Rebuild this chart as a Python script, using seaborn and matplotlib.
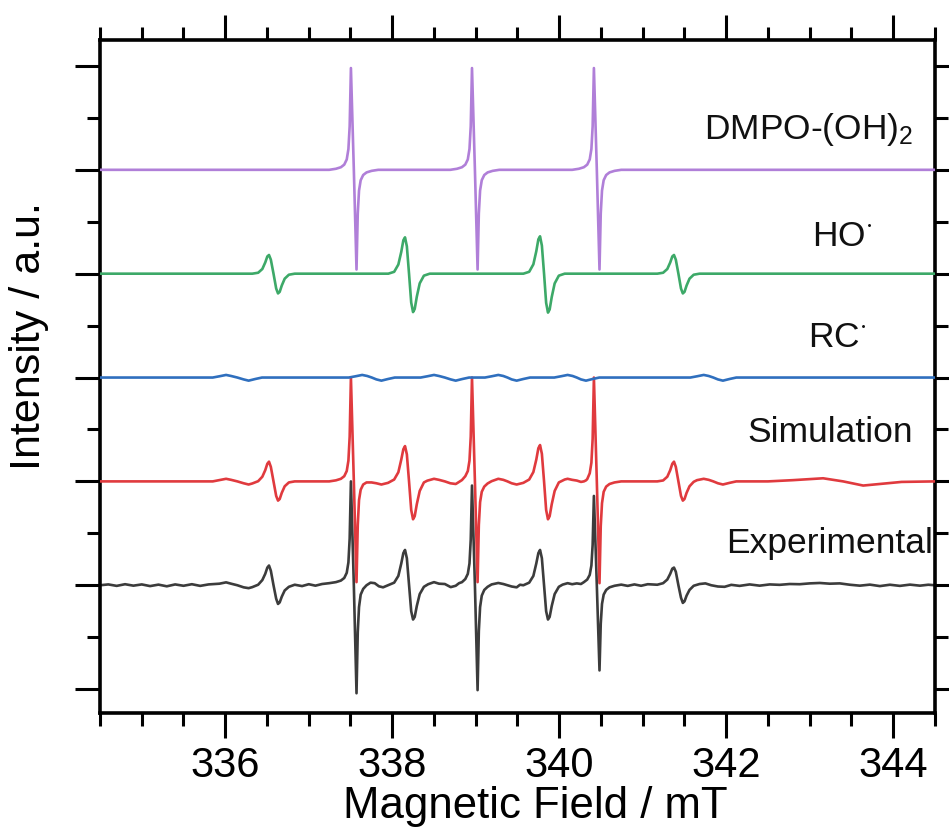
import matplotlib
matplotlib.use("Agg")
import matplotlib.pyplot as plt
import seaborn as sns
import pandas as pd
from matplotlib.ticker import MultipleLocator

# ---------------- data ----------------
labels = ["DMPO-(OH)$_2$", r"HO$^{\cdot}$", r"RC$^{\cdot}$", "Simulation", "Experimental"]
offsets = [4, 3, 2, 1, 0]
colors = ["#B07FD8", "#3DA968", "#2F6FBE", "#E03A3E", "#3C3C3C"]
label_x = [342.99, 343.39, 343.33, 343.24, 343.24]
label_dy = [0.39, 0.355, 0.39, 0.47, 0.40]

dmpo_pts = [
    (334.5, 0),
    (337.245, 0), (337.325, 0.01), (337.385, 0.025), (337.425, 0.05), (337.455, 0.10), (337.475, 0.20),
    (337.49, 0.42), (337.505, 0.98), (337.54, 0.0), (337.572, -0.96), (337.587, -0.42), (337.602, -0.20),
    (337.622, -0.10), (337.652, -0.05), (337.692, -0.025), (337.752, -0.01), (337.832, 0),
    (338.695, 0), (338.775, 0.01), (338.835, 0.025), (338.875, 0.05), (338.905, 0.10), (338.925, 0.20),
    (338.94, 0.42), (338.955, 0.98), (338.99, 0.0), (339.022, -0.96), (339.037, -0.42), (339.052, -0.20),
    (339.072, -0.10), (339.102, -0.05), (339.142, -0.025), (339.202, -0.01), (339.282, 0),
    (340.155, 0), (340.235, 0.01), (340.295, 0.025), (340.335, 0.05), (340.365, 0.10), (340.385, 0.20),
    (340.40, 0.42), (340.415, 0.98), (340.45, 0.0), (340.482, -0.96), (340.497, -0.42), (340.512, -0.20),
    (340.532, -0.10), (340.562, -0.05), (340.602, -0.025), (340.662, -0.01), (340.742, 0),
    (344.5, 0),
]

ho_pts = [
    (334.5, 0),
    (336.324, 0), (336.394, 0.009), (336.444, 0.045), (336.479, 0.108), (336.504, 0.166), (336.524, 0.18),
    (336.546, 0.135), (336.578, 0), (336.610, -0.143), (336.632, -0.19), (336.652, -0.175), (336.677, -0.114),
    (336.712, -0.048), (336.762, -0.01), (336.832, 0),
    (337.953, 0), (338.023, 0.018), (338.073, 0.088), (338.108, 0.21), (338.133, 0.322), (338.153, 0.35),
    (338.175, 0.263), (338.201, 0), (338.227, -0.278), (338.249, -0.37), (338.269, -0.34), (338.294, -0.222),
    (338.329, -0.093), (338.379, -0.019), (338.449, 0),
    (339.57, 0), (339.64, 0.018), (339.69, 0.09), (339.725, 0.216), (339.75, 0.331), (339.77, 0.36),
    (339.792, 0.27), (339.818, 0), (339.843, -0.281), (339.865, -0.375), (339.885, -0.345), (339.91, -0.225),
    (339.945, -0.094), (339.995, -0.019), (340.065, 0),
    (341.174, 0), (341.244, 0.009), (341.294, 0.045), (341.329, 0.108), (341.354, 0.166), (341.374, 0.18),
    (341.396, 0.135), (341.427, 0), (341.458, -0.143), (341.48, -0.19), (341.50, -0.175), (341.525, -0.114),
    (341.56, -0.048), (341.61, -0.01), (341.68, 0),
    (344.5, 0),
]

rc_pts = [
    (334.5, 0),
    (335.85, 0), (335.93, 0.012), (336.01, 0.025), (336.07, 0.015), (336.145, 0), (336.22, -0.018),
    (336.28, -0.03), (336.36, -0.014), (336.44, 0),
    (337.48, 0), (337.56, 0.012), (337.64, 0.025), (337.70, 0.015), (337.755, 0), (337.81, -0.018),
    (337.87, -0.03), (337.95, -0.014), (338.03, 0),
    (338.34, 0), (338.42, 0.012), (338.50, 0.025), (338.56, 0.015), (338.63, 0), (338.70, -0.018),
    (338.76, -0.03), (338.84, -0.014), (338.92, 0),
    (339.11, 0), (339.19, 0.012), (339.27, 0.025), (339.33, 0.015), (339.38, 0), (339.43, -0.018),
    (339.49, -0.03), (339.57, -0.014), (339.65, 0),
    (339.94, 0), (340.02, 0.012), (340.10, 0.025), (340.16, 0.015), (340.21, 0), (340.26, -0.018),
    (340.32, -0.03), (340.40, -0.014), (340.48, 0),
    (341.57, 0), (341.65, 0.012), (341.73, 0.025), (341.79, 0.015), (341.845, 0), (341.90, -0.018),
    (341.96, -0.03), (342.04, -0.014), (342.12, 0),
    (344.5, 0),
]

sim_pts = [
    (334.5, 0), (335.85, 0), (335.93, 0.012), (336.01, 0.025), (336.07, 0.015), (336.145, 0), (336.22, -0.018),
    (336.28, -0.03), (336.324, -0.02), (336.394, 0.002), (336.444, 0.045), (336.479, 0.108), (336.504, 0.17),
    (336.524, 0.19), (336.546, 0.14), (336.578, 0), (336.610, -0.14), (336.632, -0.185), (336.652, -0.17),
    (336.677, -0.11), (336.712, -0.047), (336.762, -0.01), (336.832, 0),
    (337.245, 0), (337.325, 0.01), (337.385, 0.025), (337.425, 0.05), (337.455, 0.10), (337.475, 0.20),
    (337.49, 0.43), (337.505, 1.0), (337.54, 0), (337.572, -0.97), (337.587, -0.42), (337.602, -0.18),
    (337.622, -0.08), (337.652, -0.03), (337.692, -0.01), (337.752, -0.01), (337.81, -0.018), (337.87, -0.03),
    (337.95, -0.014), (338.023, 0.018), (338.073, 0.088), (338.108, 0.21), (338.133, 0.31), (338.153, 0.34),
    (338.175, 0.26), (338.201, 0), (338.227, -0.275), (338.249, -0.365), (338.269, -0.335), (338.294, -0.22),
    (338.329, -0.092), (338.379, -0.01), (338.42, 0.007), (338.50, 0.025), (338.56, 0.015), (338.63, 0),
    (338.695, -0.018), (338.76, -0.025), (338.775, -0.018), (338.835, 0.013), (338.875, 0.05), (338.905, 0.10),
    (338.925, 0.20), (338.94, 0.43), (338.955, 1.0), (338.99, 0), (339.022, -0.97), (339.037, -0.42),
    (339.052, -0.20), (339.072, -0.10), (339.102, -0.05), (339.142, -0.02), (339.19, 0.002), (339.27, 0.025),
    (339.33, 0.015), (339.38, 0), (339.43, -0.018), (339.49, -0.03), (339.57, -0.014), (339.64, 0.018),
    (339.69, 0.09), (339.725, 0.21), (339.75, 0.32), (339.77, 0.35), (339.792, 0.265), (339.818, 0),
    (339.843, -0.275), (339.865, -0.365), (339.885, -0.335), (339.91, -0.22), (339.945, -0.092), (339.995, -0.01),
    (340.02, 0.0), (340.065, 0.018), (340.10, 0.025), (340.155, 0.015), (340.21, 0.008), (340.235, 0.002),
    (340.26, -0.005), (340.295, 0.0), (340.32, 0.01), (340.335, 0.022), (340.365, 0.078), (340.385, 0.18),
    (340.40, 0.41), (340.415, 1.0), (340.45, 0), (340.482, -0.98), (340.497, -0.43), (340.512, -0.21),
    (340.532, -0.10), (340.562, -0.05), (340.602, -0.025), (340.662, -0.01), (340.742, 0),
    (341.174, 0), (341.244, 0.009), (341.294, 0.045), (341.329, 0.108), (341.354, 0.17), (341.374, 0.19),
    (341.396, 0.14), (341.427, 0), (341.458, -0.14), (341.48, -0.185), (341.50, -0.17), (341.525, -0.11),
    (341.56, -0.047), (341.61, -0.004), (341.65, 0.012), (341.73, 0.025), (341.79, 0.015), (341.845, 0),
    (341.90, -0.018), (341.96, -0.03), (342.04, -0.014), (342.12, 0), (342.5, 0.0), (342.8, 0.012),
    (343.16, 0.03), (343.40, 0.0), (343.64, -0.04), (343.9, -0.02), (344.1, -0.005), (344.5, 0),
]

exp_pts = [
    (334.5, 0.0), (334.6, 0.008), (334.7, -0.006), (334.8, 0.01), (334.9, -0.004), (335.0, 0.008),
    (335.1, -0.008), (335.2, 0.006), (335.3, -0.01), (335.4, 0.008), (335.5, -0.005), (335.6, 0.01),
    (335.7, -0.006), (335.8, 0.008), (335.93, 0.015), (336.01, 0.028), (336.07, 0.015), (336.145, 0.0),
    (336.22, -0.02), (336.28, -0.028), (336.324, -0.018), (336.394, 0.005), (336.444, 0.05), (336.479, 0.11),
    (336.504, 0.17), (336.524, 0.19), (336.546, 0.14), (336.578, 0.0), (336.610, -0.13), (336.632, -0.18),
    (336.652, -0.165), (336.677, -0.11), (336.712, -0.05), (336.762, -0.015), (336.832, 0.005), (336.92, -0.008),
    (337.0, 0.01), (337.08, -0.004), (337.16, 0.012), (337.245, 0.02), (337.325, 0.03), (337.385, 0.045),
    (337.425, 0.07), (337.455, 0.12), (337.475, 0.22), (337.49, 0.45), (337.505, 1.0), (337.54, 0.0),
    (337.572, -1.04), (337.587, -0.45), (337.602, -0.21), (337.622, -0.09), (337.652, -0.035), (337.692, 0.0),
    (337.74, 0.025), (337.79, 0.02), (337.84, -0.01), (337.89, -0.02), (337.95, 0.0), (338.023, 0.025),
    (338.073, 0.09), (338.108, 0.21), (338.133, 0.31), (338.153, 0.34), (338.175, 0.26), (338.201, 0.0),
    (338.227, -0.25), (338.249, -0.33), (338.269, -0.305), (338.294, -0.20), (338.329, -0.085), (338.379, -0.015),
    (338.43, 0.01), (338.50, 0.03), (338.56, 0.015), (338.63, 0.012), (338.70, -0.018), (338.76, -0.005),
    (338.80, 0.02), (338.835, 0.03), (338.875, 0.06), (338.905, 0.11), (338.925, 0.21), (338.94, 0.44),
    (338.955, 0.96), (338.99, 0.0), (339.022, -1.01), (339.037, -0.44), (339.052, -0.21), (339.072, -0.10),
    (339.102, -0.045), (339.142, -0.015), (339.19, 0.008), (339.27, 0.022), (339.33, 0.012), (339.38, 0.0),
    (339.43, -0.012), (339.49, -0.02), (339.53, 0.005), (339.57, 0.0), (339.64, 0.025), (339.69, 0.09),
    (339.725, 0.21), (339.75, 0.31), (339.77, 0.34), (339.792, 0.26), (339.818, 0.0), (339.843, -0.25),
    (339.865, -0.33), (339.885, -0.305), (339.91, -0.20), (339.945, -0.085), (339.995, -0.015), (340.04, 0.006),
    (340.10, 0.02), (340.155, 0.01), (340.21, 0.018), (340.26, 0.012), (340.295, 0.03), (340.335, 0.055),
    (340.365, 0.10), (340.385, 0.19), (340.40, 0.39), (340.415, 0.86), (340.45, 0.0), (340.482, -0.82),
    (340.497, -0.37), (340.512, -0.18), (340.532, -0.09), (340.562, -0.045), (340.602, -0.02), (340.662, -0.005),
    (340.742, 0.006), (340.82, -0.006), (340.9, 0.008), (340.98, -0.005), (341.06, 0.01), (341.174, 0.005),
    (341.244, 0.02), (341.294, 0.055), (341.329, 0.11), (341.354, 0.16), (341.374, 0.17), (341.396, 0.13),
    (341.427, 0.0), (341.458, -0.12), (341.48, -0.17), (341.50, -0.155), (341.525, -0.10), (341.56, -0.045),
    (341.61, -0.005), (341.68, 0.012), (341.75, 0.018), (341.82, 0.0), (341.9, -0.012), (341.98, -0.015),
    (342.06, 0.004), (342.16, -0.006), (342.28, 0.008), (342.4, -0.004), (342.52, 0.008), (342.64, 0.004),
    (342.76, 0.012), (342.88, 0.01), (343.0, 0.018), (343.12, 0.022), (343.24, 0.015), (343.36, 0.018),
    (343.48, 0.005), (343.6, -0.004), (343.72, 0.006), (343.84, -0.008), (343.96, 0.005), (344.08, -0.006),
    (344.2, 0.006), (344.32, -0.004), (344.42, 0.005), (344.5, 0.0),
]

traces = [dmpo_pts, ho_pts, rc_pts, sim_pts, exp_pts]

# ---------------- plotting ----------------
sns.set_theme(style="white")
plt.rcParams["font.family"] = ["Liberation Sans", "DejaVu Sans"]
plt.rcParams["mathtext.default"] = "regular"

fig = plt.figure(figsize=(9.49, 8.30), dpi=100)
ax = fig.add_axes([100 / 949, 1 - 713 / 830, 835 / 949, 673 / 830])

# draw the bottom trace first so upper traces lie on top
for i in reversed(range(len(labels))):
    df = pd.DataFrame(traces[i], columns=["field", "intensity"])
    df["intensity"] = df["intensity"] + offsets[i]
    sns.lineplot(data=df, x="field", y="intensity", ax=ax, color=colors[i],
                 linewidth=1.9, estimator=None, sort=False, zorder=2 + (4 - i))
    ax.text(label_x[i], offsets[i] + label_dy[i], labels[i], fontsize=25.5,
            ha="center", va="center", color="#111111")

ax.set_xlim(334.5, 344.5)
ax.set_ylim(-1.23, 5.25)
ax.xaxis.set_major_locator(MultipleLocator(2))
ax.xaxis.set_minor_locator(MultipleLocator(0.5))
ax.yaxis.set_major_locator(MultipleLocator(1))
ax.yaxis.set_minor_locator(MultipleLocator(0.5))
ax.tick_params(which="both", direction="out", top=True, right=True, bottom=True, left=True,
               width=2.2, color="black")
ax.tick_params(which="major", length=18)
ax.tick_params(which="minor", length=9.5)
ax.tick_params(axis="x", which="major", labelsize=30, pad=6, labelcolor="black")
ax.tick_params(axis="y", labelleft=False)
for s in ax.spines.values():
    s.set_linewidth(2.6)
    s.set_color("black")
ax.set_xlabel("Magnetic Field / mT", fontsize=31.5, color="black")
ax.xaxis.set_label_coords(0.521, -0.108)
ax.set_ylabel("Intensity / a.u.", fontsize=31, color="black")
ax.yaxis.set_label_coords(-0.061, 0.56)
ax.grid(False)

fig.savefig("out.png", dpi=100)
